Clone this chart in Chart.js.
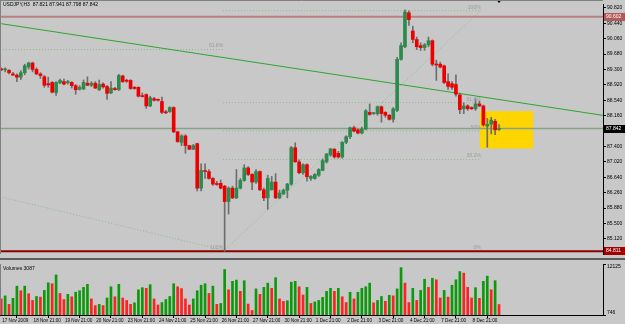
<!DOCTYPE html>
<html>
<head>
<meta charset="utf-8">
<script src="https://cdn.jsdelivr.net/npm/chart.js@4.4.1/dist/chart.umd.min.js"></script>
<style>
html, body { margin: 0; padding: 0; background: #c8c8c8; }
#wrap { position: relative; width: 625px; height: 324px; overflow: hidden; background: #c8c8c8; }
#price { position: absolute; left: 0; top: 0; }
#volume { position: absolute; left: 0; top: 258px; }
</style>
</head>
<body>
<div id="wrap">
  <canvas id="price" width="625" height="258"></canvas>
  <canvas id="volume" width="625" height="66"></canvas>
</div>
<script>
// USDJPY H3 candles, one entry per bar
const opens = [89.30, 89.29, 89.28, 89.19, 89.16, 89.11, 89.22, 89.36, 89.46, 89.30,
  89.19, 89.12, 88.95, 88.98, 88.73, 88.97, 89.00, 88.97, 88.98, 88.90,
  88.81, 88.82, 88.96, 88.91, 88.96, 88.80, 88.94, 88.88, 88.72, 88.83,
  88.80, 89.14, 89.03, 89.03, 88.86, 88.86, 88.65, 88.68, 88.40, 88.58,
  88.56, 88.51, 88.24, 88.26, 88.36, 87.76, 87.50, 87.66, 87.42, 87.33,
  87.47, 86.37, 86.80, 86.78, 86.61, 86.47, 86.49, 86.42, 86.04, 86.37,
  86.13, 86.37, 86.56, 86.87, 86.71, 86.52, 86.78, 86.33, 86.13, 86.33,
  86.52, 86.13, 86.23, 86.32, 86.47, 87.37, 87.02, 86.75, 86.95, 86.61,
  86.61, 86.69, 86.81, 87.02, 87.19, 87.33, 87.23, 87.14, 87.50, 87.64,
  87.86, 87.81, 87.73, 87.83, 88.24, 88.21, 88.21, 88.38, 88.24, 88.17,
  88.07, 88.29, 89.55, 89.86, 90.70, 90.25, 90.04, 89.89, 89.84, 89.91,
  90.01, 89.43, 89.43, 89.39, 89.00, 88.95, 88.93, 88.67, 88.33, 88.40,
  88.36, 88.33, 88.45, 88.40, 87.90, 87.95, 88.02, 87.821];
const highs = [89.34, 89.34, 89.30, 89.23, 89.19, 89.27, 89.43, 89.48, 89.48, 89.34,
  89.22, 89.15, 89.11, 89.00, 89.00, 89.06, 89.06, 89.03, 89.00, 88.93,
  88.90, 89.04, 89.12, 89.00, 89.00, 89.04, 88.97, 88.91, 89.00, 88.86,
  89.18, 89.16, 89.06, 89.05, 88.88, 88.87, 88.72, 88.70, 88.64, 88.61,
  88.57, 88.62, 88.29, 88.38, 88.38, 87.78, 87.69, 87.69, 87.43, 87.45,
  87.48, 86.97, 86.97, 86.83, 86.63, 86.54, 86.57, 86.44, 86.40, 86.42,
  86.83, 86.61, 86.95, 86.90, 86.73, 86.83, 86.80, 86.37, 86.69, 86.66,
  86.73, 86.32, 86.35, 86.49, 87.40, 87.49, 87.07, 86.97, 86.97, 86.68,
  86.73, 86.85, 87.09, 87.23, 87.35, 87.35, 87.28, 87.52, 87.66, 87.88,
  87.90, 87.83, 87.88, 88.31, 88.45, 88.24, 88.40, 88.40, 88.26, 88.19,
  88.36, 89.60, 89.96, 90.77, 90.75, 90.37, 90.10, 89.96, 89.94, 90.10,
  90.03, 89.53, 89.48, 89.41, 89.19, 89.00, 89.17, 88.72, 88.48, 88.43,
  88.38, 88.57, 88.52, 88.42, 88.09, 88.12, 88.07, 87.941];
const lows = [89.27, 89.24, 89.19, 89.15, 89.00, 89.05, 89.17, 89.31, 89.24, 89.17,
  89.08, 88.86, 88.86, 88.72, 88.66, 88.95, 88.92, 88.94, 88.84, 88.69,
  88.79, 88.80, 88.90, 88.88, 88.83, 88.78, 88.84, 88.56, 88.70, 88.79,
  88.78, 88.98, 88.98, 88.81, 88.81, 88.62, 88.62, 88.34, 88.38, 88.52,
  88.52, 88.21, 88.21, 88.24, 87.74, 87.50, 87.42, 87.23, 87.32, 87.32,
  86.30, 86.30, 86.61, 86.59, 86.44, 86.44, 86.35, 84.811, 85.73, 86.11,
  86.11, 86.35, 86.54, 86.68, 86.33, 86.49, 86.31, 86.06, 85.85, 86.32,
  86.11, 86.11, 86.21, 86.13, 86.44, 87.01, 86.73, 86.71, 86.54, 86.56,
  86.59, 86.66, 86.80, 86.99, 87.16, 87.11, 87.11, 87.11, 87.47, 87.59,
  87.76, 87.71, 87.71, 87.81, 88.17, 88.19, 88.17, 88.00, 88.12, 88.05,
  88.00, 88.26, 89.53, 89.84, 90.39, 89.96, 89.79, 89.77, 89.77, 89.86,
  89.39, 89.03, 89.34, 88.95, 88.81, 88.81, 88.64, 88.21, 88.21, 88.29,
  88.31, 88.29, 88.38, 87.90, 87.38, 87.71, 87.69, 87.798];
const closes = [89.29, 89.30, 89.22, 89.16, 89.11, 89.22, 89.39, 89.46, 89.30, 89.19,
  89.15, 88.91, 88.92, 88.74, 88.98, 89.03, 88.94, 89.00, 88.90, 88.80,
  88.86, 88.98, 88.91, 88.96, 88.84, 88.93, 88.87, 88.71, 88.84, 88.80,
  89.15, 89.00, 89.01, 88.83, 88.83, 88.64, 88.63, 88.40, 88.60, 88.54,
  88.54, 88.24, 88.23, 88.36, 87.76, 87.52, 87.66, 87.42, 87.33, 87.42,
  86.37, 86.81, 86.78, 86.61, 86.47, 86.46, 86.37, 86.04, 86.37, 86.13,
  86.37, 86.56, 86.87, 86.71, 86.52, 86.78, 86.33, 86.13, 86.61, 86.52,
  86.13, 86.25, 86.32, 86.47, 87.37, 87.02, 86.75, 86.95, 86.65, 86.66,
  86.71, 86.83, 87.05, 87.21, 87.34, 87.14, 87.14, 87.50, 87.64, 87.86,
  87.78, 87.73, 87.83, 88.28, 88.19, 88.21, 88.38, 88.21, 88.17, 88.07,
  88.33, 89.55, 89.89, 90.72, 90.53, 90.04, 89.86, 89.84, 89.91, 90.01,
  89.43, 89.41, 89.36, 88.98, 88.88, 88.86, 88.69, 88.31, 88.40, 88.33,
  88.33, 88.45, 88.40, 87.93, 87.95, 88.05, 87.81, 87.842];
const volumes = [4336, 5013, 3117, 4472, 7181, 6165, 7181, 5488, 3997, 4878,
  4743, 6233, 7926, 7723, 9687, 5555, 4201, 5352, 4810, 5826,
  6165, 6910, 7587, 4336, 2846, 3117, 2846, 4539, 7045, 4810,
  7587, 4539, 3997, 3117, 3455, 6368, 6842, 6707, 7520, 4336,
  2981, 3523, 4201, 4878, 7723, 7045, 6639, 4336, 2981, 4336,
  6165, 7384, 7723, 5555, 7181, 3117, 3320, 10906, 6368, 8264,
  8535, 6030, 8400, 3185, 1762, 6571, 5352, 6910, 7858, 6707,
  9077, 4336, 3794, 3930, 8061, 8264, 7045, 5217, 6910, 3320,
  3659, 3997, 4675, 6030, 6707, 6030, 6707, 4810, 3523, 5826,
  4336, 5826, 6707, 7045, 7858, 3455, 3997, 4878, 3794, 5149,
  5013, 6571, 11312, 7858, 3523, 6707, 3997, 6233, 8739, 6910,
  8942, 8603, 4539, 6233, 4743, 7384, 8603, 10432, 10093, 6910,
  4539, 6842, 4472, 8264, 9416, 6368, 8400, 3087];

// time axis: a label every 8 bars
const dateBars = [0, 8, 16, 24, 32, 40, 48, 56, 64, 72, 80, 88, 96, 104, 112, 120];
const dateLabels = ['17 Nov 2009', '18 Nov 21:00', '19 Nov 21:00', '20 Nov 21:00', '23 Nov 21:00',
  '24 Nov 21:00', '25 Nov 21:00', '26 Nov 21:00', '27 Nov 21:00', '30 Nov 21:00', '1 Dec 21:00',
  '2 Dec 21:00', '3 Dec 21:00', '4 Dec 21:00', '7 Dec 21:00', '8 Dec 21:00'];
const priceTicks = [85.12, 85.50, 85.88, 86.26, 86.64, 87.02, 87.40, 87.78,
  88.16, 88.54, 88.92, 89.30, 89.68, 90.06, 90.44, 90.82];
const volumeTicks = [746, 12125];

// objects drawn on the chart
const currentPrice = 87.842;
const highLine = 90.602;
const lowLine = 84.811;
const trendLine = [{ x: 0, y: 90.43 }, { x: 154, y: 88.16 }];
const fibLevels = [0, 38.2, 50, 61.8, 100];
const fibA = { from: 56.6, to: 122.3, low: 84.811, high: 90.75 };
const fibBLevels = [[61.8, 89.79], [100, 84.811]];
const fibBDiag = [{ x: -0.3, y: 86.16 }, { x: 56.6, y: 84.84 }];
const boxBars = [122.1, 135.7];
const boxPrices = [88.27, 87.35];

const xMin = -0.31, xMax = 153.52;
const FONT = { family: 'Liberation Sans', size: 5 };
const DATE_FONT = { family: 'Liberation Sans', size: 4.6 };
const BULL = '#2b8a4c', BEAR = '#ee0000';

function line(points, color, width, dash) {
  return { type: 'line', data: points, borderColor: color, borderWidth: width,
    borderDash: dash || [], pointRadius: 0, fill: false, order: 3 };
}

const fibLines = fibLevels.map(l => {
  const p = fibA.low + (fibA.high - fibA.low) * l / 100;
  return line([{ x: fibA.from, y: p }, { x: fibA.to, y: p }], '#8cb88c', 1, [1, 2]);
});
const fibBLines = fibBLevels.map(([l, p]) => line([{ x: xMin, y: p }, { x: fibA.from, y: p }], '#8cb88c', 1, [1, 2]));

const annotate = {
  id: 'annotate',
  beforeDatasetsDraw(chart) {
    const { ctx, scales: { x, y } } = chart;
    const x0 = x.getPixelForValue(boxBars[0]), x1 = x.getPixelForValue(boxBars[1]);
    const y0 = y.getPixelForValue(boxPrices[0]), y1 = y.getPixelForValue(boxPrices[1]);
    ctx.save();
    ctx.fillStyle = '#ffd500';
    ctx.fillRect(x0, y0, x1 - x0, y1 - y0);
    ctx.restore();
  },
  afterDraw(chart) {
    const { ctx, chartArea, scales: { x, y } } = chart;
    ctx.save();
    ctx.font = '5px "Liberation Sans"';
    // fibo level captions
    ctx.fillStyle = '#9c9c9c';
    ctx.textAlign = 'right';
    ctx.textBaseline = 'bottom';
    fibLevels.forEach(l => {
      const p = fibA.low + (fibA.high - fibA.low) * l / 100;
      ctx.fillText(l + '%', x.getPixelForValue(fibA.to), y.getPixelForValue(p) - 1);
    });
    fibBLevels.forEach(([l, p]) => {
      ctx.fillText(l + '%', x.getPixelForValue(fibA.from), y.getPixelForValue(p) - 1);
    });
    // price boxes on the axis
    const tag = (v, bg) => {
      const py = Math.round(y.getPixelForValue(v));
      ctx.fillStyle = bg;
      ctx.fillRect(chartArea.right + 1, py - 4, 22, 8);
      ctx.fillStyle = '#fff';
      ctx.textAlign = 'left';
      ctx.textBaseline = 'middle';
      ctx.fillText(v.toFixed(3), chartArea.right + 3, py);
    };
    tag(highLine, '#b05a5a');
    tag(lowLine, '#a00000');
    tag(currentPrice, '#000');
    // symbol header
    ctx.fillStyle = '#000';
    ctx.textAlign = 'left';
    ctx.textBaseline = 'top';
    const n = closes.length - 1;
    ctx.fillText('USDJPY,H3  ' + [opens[n], highs[n], lows[n], closes[n]].map(v => v.toFixed(3)).join(' '), 3, 2);
    // shift marker
    const sx = x.getPixelForValue(n);
    ctx.beginPath();
    ctx.moveTo(sx - 2.5, 0); ctx.lineTo(sx + 2.5, 0); ctx.lineTo(sx, 3); ctx.closePath();
    ctx.fill();
    // frame
    ctx.strokeStyle = '#808080';
    ctx.lineWidth = 1;
    ctx.beginPath();
    ctx.moveTo(0, 0.5); ctx.lineTo(chartArea.right, 0.5);
    ctx.moveTo(0.5, 0); ctx.lineTo(0.5, chartArea.bottom);
    ctx.stroke();
    ctx.restore();
  }
};

new Chart(document.getElementById('price'), {
  type: 'bar',
  data: {
    datasets: [
      line([{ x: xMin, y: highLine }, { x: xMax, y: highLine }], '#b88080', 2),
      line([{ x: xMin, y: lowLine }, { x: xMax, y: lowLine }], '#8b0000', 2),
      line([{ x: xMin, y: currentPrice }, { x: xMax, y: currentPrice }], '#86a286', 1.5),
      line(trendLine, '#2ea52e', 1),
      ...fibLines,
      ...fibBLines,
      line([{ x: fibA.from, y: fibA.low }, { x: fibA.to, y: fibA.high }], '#8cb88c', 1, [1, 2]),
      line(fibBDiag, '#8cb88c', 1, [1, 2]),
      {
        data: opens.map((o, i) => ({ x: i, y: [lows[i], highs[i]] })),
        backgroundColor: '#6e6e6e', barThickness: 1, grouped: false, order: 2
      },
      {
        data: opens.map((o, i) => ({ x: i, y: [o, closes[i]] })),
        backgroundColor: opens.map((o, i) => closes[i] >= o ? BULL : BEAR),
        barThickness: 3, minBarLength: 1, grouped: false, order: 1
      }
    ]
  },
  options: {
    responsive: false,
    animation: false,
    layout: { padding: 0 },
    plugins: { legend: { display: false }, tooltip: { enabled: false } },
    scales: {
      x: { type: 'linear', min: xMin, max: xMax, offset: false, display: false },
      y: {
        position: 'right', min: 84.745, max: 90.916,
        afterFit: s => { s.width = 22; },
        afterBuildTicks: s => { s.ticks = priceTicks.map(v => ({ value: v })); },
        ticks: { font: FONT, color: '#000', padding: 1, callback: v => v.toFixed(3) },
        grid: { drawOnChartArea: false, tickLength: 3, color: '#000' },
        border: { color: '#000' }
      }
    }
  },
  plugins: [annotate]
});

const volumeDecor = {
  id: 'volumeDecor',
  afterDraw(chart) {
    const { ctx, chartArea, scales: { y } } = chart;
    ctx.save();
    ctx.fillStyle = '#5c5c5c';
    ctx.fillRect(0, 0, chart.width, 2);
    ctx.font = '5px "Liberation Sans"';
    ctx.fillStyle = '#000';
    ctx.textAlign = 'left';
    ctx.textBaseline = 'top';
    ctx.fillText('Volumes ' + volumes[volumes.length - 1], 3, chartArea.top + 2);
    ctx.fillText(String(volumeTicks[1]), chartArea.right + 4, y.getPixelForValue(volumeTicks[1]));
    ctx.textBaseline = 'bottom';
    ctx.fillText(String(volumeTicks[0]), chartArea.right + 4, y.getPixelForValue(volumeTicks[0]));
    ctx.strokeStyle = '#808080';
    ctx.beginPath();
    ctx.moveTo(0.5, chartArea.top); ctx.lineTo(0.5, chartArea.bottom);
    ctx.stroke();
    ctx.restore();
  }
};

new Chart(document.getElementById('volume'), {
  type: 'bar',
  data: {
    datasets: [{
      data: volumes.map((v, i) => ({ x: i, y: v })),
      backgroundColor: volumes.map((v, i) => i > 0 && v > volumes[i - 1] ? '#0c9a0c' : '#ff2222'),
      barThickness: 2, grouped: false
    }]
  },
  options: {
    responsive: false,
    animation: false,
    layout: { padding: { top: 2 } },
    plugins: { legend: { display: false }, tooltip: { enabled: false } },
    scales: {
      x: {
        type: 'linear', min: xMin, max: xMax, offset: false,
        afterFit: s => { s.height = 9; },
        afterBuildTicks: s => { s.ticks = dateBars.map(v => ({ value: v })); },
        ticks: { font: DATE_FONT, color: '#000', padding: 0, align: 'start', labelOffset: 1,
          maxRotation: 0, autoSkip: false, callback: (v, i) => dateLabels[i] },
        grid: { drawOnChartArea: false, tickLength: 3, color: '#000' },
        border: { color: '#000' }
      },
      y: {
        position: 'right', min: volumeTicks[0], max: volumeTicks[1],
        afterFit: s => { s.width = 22; },
        afterBuildTicks: s => { s.ticks = volumeTicks.map(v => ({ value: v })); },
        ticks: { font: FONT, callback: () => '' },
        grid: { drawOnChartArea: false, tickLength: 3, color: '#000' },
        border: { color: '#000' }
      }
    }
  },
  plugins: [volumeDecor]
});
</script>
</body>
</html>
